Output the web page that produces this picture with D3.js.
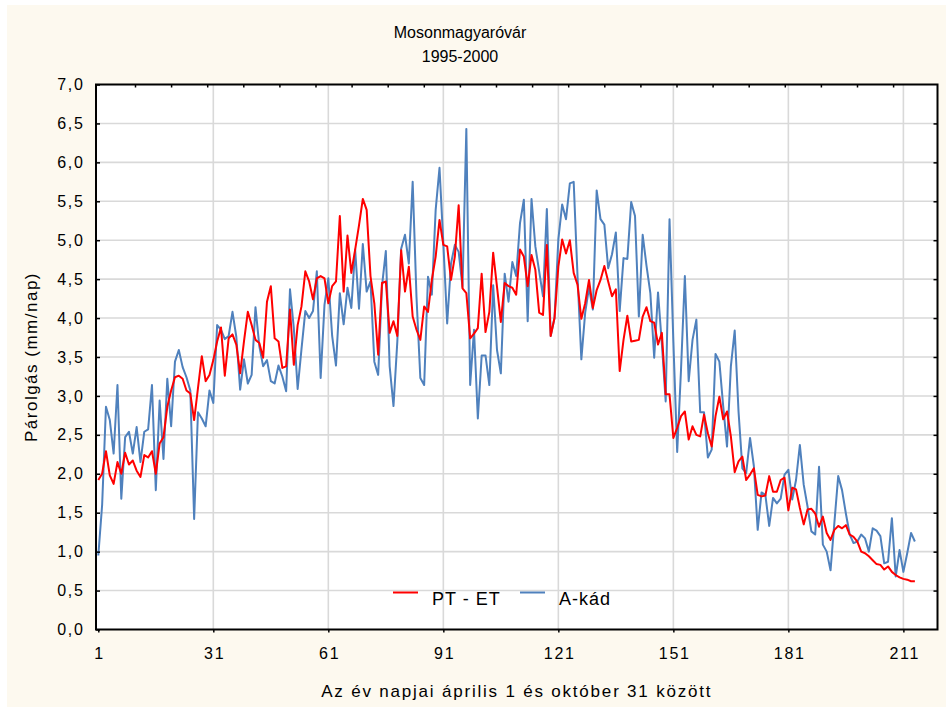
<!DOCTYPE html>
<html><head><meta charset="utf-8">
<script src="https://cdn.jsdelivr.net/npm/d3@7"></script>
<style>
body{margin:0;background:#fff}
svg{display:block}
text{font-family:Arial,"Liberation Sans",sans-serif;fill:#000}
</style>
</head><body>
<svg id="c" width="946" height="708"></svg>
<script>
// ---- data ----
const days = d3.range(1, 215); // day index 1..214 (április 1 – október 31)
const petValues = [
1.92,2.0,2.29,1.98,1.87,2.15,2.0,2.27,2.12,2.17,
2.04,1.96,2.24,2.21,2.29,2.0,2.39,2.47,2.86,3.07,
3.24,3.26,3.22,3.07,3.03,2.69,3.1,3.51,3.19,3.27,
3.46,3.70,3.88,3.26,3.74,3.79,3.66,3.29,3.70,4.08,
3.91,3.72,3.68,3.49,4.21,4.41,3.74,3.70,3.36,3.38,
4.11,3.40,3.91,4.15,4.60,4.47,4.24,4.51,4.54,4.51,
4.19,4.41,4.47,5.31,4.34,5.06,4.58,4.88,5.19,5.53,
5.39,4.54,4.19,3.53,4.45,4.47,3.81,3.96,3.77,4.87,
4.34,4.66,4.02,3.85,3.72,4.15,4.08,4.49,4.79,5.26,
4.94,4.92,4.49,4.79,5.45,4.38,4.32,3.74,3.80,3.87,
4.57,3.82,4.08,4.84,4.40,3.95,4.45,4.41,4.39,4.30,
4.88,4.79,4.41,4.81,4.62,4.07,4.04,4.94,3.77,4.00,
4.66,5.01,4.83,5.00,4.58,4.43,3.99,4.19,4.49,4.13,
4.36,4.49,4.67,4.47,4.28,4.37,3.32,3.72,4.03,3.70,
3.71,3.72,4.02,4.14,3.96,3.94,3.66,3.81,3.02,3.02,
2.46,2.59,2.74,2.80,2.44,2.61,2.50,2.48,2.76,2.52,
2.35,2.74,2.99,2.70,2.80,2.48,2.02,2.16,2.22,1.92,
1.99,2.07,1.73,1.71,1.72,1.97,1.77,1.77,1.92,1.95,
1.53,1.82,1.80,1.56,1.35,1.54,1.55,1.49,1.32,1.45,
1.24,1.15,1.28,1.33,1.30,1.34,1.22,1.19,1.13,1.00,
0.98,0.94,0.89,0.84,0.83,0.77,0.81,0.74,0.70,0.67,
0.65,0.64,0.62,0.62
];
const kadValues = [
0.95,1.6,2.86,2.69,2.26,3.14,1.68,2.47,2.54,2.26,
2.60,2.15,2.54,2.57,3.14,1.79,2.94,2.19,3.22,2.61,
3.44,3.59,3.37,3.24,3.07,1.42,2.79,2.71,2.61,3.07,
2.91,3.91,3.85,3.73,3.77,4.08,3.76,3.08,3.47,3.16,
3.27,4.14,3.64,3.38,3.46,3.19,3.16,3.39,3.25,3.06,
4.37,3.87,3.09,3.6,4.09,4.00,4.09,4.60,3.23,4.17,
4.51,3.77,3.39,4.32,3.92,4.39,4.13,4.88,4.12,4.95,
4.34,4.47,3.44,3.27,4.41,4.86,3.38,2.87,3.7,4.89,
5.07,4.70,5.75,4.27,3.23,3.14,4.53,4.30,5.39,5.93,
4.96,3.93,4.70,4.94,4.85,4.40,6.43,3.14,3.85,2.71,
3.52,3.52,3.14,4.42,3.59,3.29,4.57,4.21,4.72,4.54,
5.22,5.52,3.96,5.53,4.92,4.60,4.28,5.40,3.77,4.00,
5.01,5.46,5.27,5.73,5.75,4.54,3.47,4.07,4.39,4.11,
5.64,5.27,5.20,4.64,4.82,5.10,4.09,4.77,4.76,5.49,
5.31,4.02,5.07,4.67,4.32,3.49,4.33,3.67,2.93,5.27,
3.7,2.28,3.34,4.54,3.19,3.72,3.98,2.79,2.79,2.21,
2.31,3.54,3.44,2.87,2.35,3.38,3.84,2.8,2.07,2.01,
2.46,2.10,1.28,1.76,1.73,1.33,1.69,1.62,1.68,1.99,
2.05,1.67,1.92,2.37,1.86,1.58,1.26,1.22,2.09,1.09,
1.00,0.76,1.37,1.97,1.79,1.49,1.22,1.11,1.13,1.22,
1.17,1.00,1.30,1.27,1.20,0.85,0.87,1.43,0.68,1.02,
0.74,0.98,1.24,1.13
];
const yTickValues = [0,0.5,1,1.5,2,2.5,3,3.5,4,4.5,5,5.5,6,6.5,7];
const xTickDays = [1,31,61,91,121,151,181,211];
const seriesNames = ["PT - ET", "A-kád"];
const seriesColors = ["#ff0000", "#4f81bd"];
const titleLines = ["Mosonmagyaróvár", "1995-2000"];
const xLabel = "Az év napjai április 1 és október 31 között";
const yLabel = "Párolgás (mm/nap)";

// ---- layout ----
const L = 96, R = 937.5, T = 84.5, B = 629.5;
const svg = d3.select("#c");
const x = d3.scaleLinear().domain([0.4, 219.9]).range([L, R]);
const y = d3.scaleLinear().domain([0, 7]).range([B, T]);
const topScale = d3.scaleLinear().domain([0, 23.23]).range([98.9, R]);
const fmt = d => d3.format(".1f")(d).replace(".", ",");

svg.append("rect").attr("x", 7).attr("y", 5).attr("width", 939).attr("height", 702).attr("fill", "#fdf9ef");
svg.append("rect").attr("x", L).attr("y", T).attr("width", R - L).attr("height", B - T).attr("fill", "#fff");

// gridlines
const grid = svg.append("g").attr("stroke", "#d9d9d9").attr("stroke-width", 1.6);
grid.selectAll("line.h").data(yTickValues.filter(v => v > 0 && v < 7)).enter().append("line")
  .attr("x1", L).attr("x2", R).attr("y1", d => y(d)).attr("y2", d => y(d));
grid.selectAll("line.v").data(xTickDays.filter(d => d > 1)).enter().append("line")
  .attr("y1", T).attr("y2", B).attr("x1", d => x(d)).attr("x2", d => x(d));

// series
const series = [petValues, kadValues];
const line = d3.line().x((d, i) => x(days[i])).y(d => y(d));
[1, 0].forEach(k => {
  svg.append("path").datum(series[k]).attr("d", line)
    .attr("fill", "none").attr("stroke", seriesColors[k]).attr("stroke-width", 2)
    .attr("stroke-linejoin", "round");
});

// axes
function styleAxis(g, size) {
  g.select(".domain").remove();
  g.selectAll(".tick line").attr("stroke", "#000").attr("stroke-width", 1.5);
  g.selectAll("text").attr("font-size", size).style("letter-spacing", "1.7px")
    .attr("font-family", 'Arial,"Liberation Sans",sans-serif').attr("fill", "#000");
}
const gl = svg.append("g").attr("transform", `translate(${L},0)`)
  .call(d3.axisLeft(y).tickValues(yTickValues).tickSize(-4).tickPadding(11.5).tickFormat(fmt));
styleAxis(gl, 16);
const gb = svg.append("g").attr("transform", `translate(0,${B})`)
  .call(d3.axisBottom(x).tickValues(xTickDays).tickSize(3).tickPadding(15.5).tickFormat(d3.format("d")));
styleAxis(gb, 16);
gb.selectAll("text").attr("dx", "0.85");
const gt = svg.append("g").attr("transform", `translate(0,${T})`)
  .call(d3.axisTop(topScale).tickValues(d3.range(1, 23)).tickSize(-3).tickFormat(""));
styleAxis(gt, 16);
const gr = svg.append("g").attr("transform", `translate(${R},0)`)
  .call(d3.axisRight(y).tickValues(yTickValues.filter(v => v > 0 && v < 7)).tickSize(-4).tickFormat(""));
styleAxis(gr, 16);

// frame
svg.append("rect").attr("x", L).attr("y", T).attr("width", R - L).attr("height", B - T)
  .attr("fill", "none").attr("stroke", "#000").attr("stroke-width", 2);

// titles
svg.append("text").attr("x", 460).attr("y", 38).attr("text-anchor", "middle").attr("font-size", 16).text(titleLines[0]);
svg.append("text").attr("x", 460).attr("y", 62).attr("text-anchor", "middle").attr("font-size", 16).text(titleLines[1]);
svg.append("text").attr("x", (L + R) / 2).attr("y", 697).attr("text-anchor", "middle").attr("font-size", 17)
  .style("letter-spacing", "1.8px").text(xLabel);
svg.append("text").attr("transform", `translate(37,${(T + B) / 2}) rotate(-90)`).attr("text-anchor", "middle")
  .attr("font-size", 17).style("letter-spacing", "1.5px").text(yLabel);

// legend
const legendX = [393, 520];
const lg = svg.append("g");
seriesNames.forEach((name, k) => {
  lg.append("line").attr("x1", legendX[k]).attr("x2", legendX[k] + 25).attr("y1", 592.5).attr("y2", 592.5)
    .attr("stroke", seriesColors[k]).attr("stroke-width", 2);
  lg.append("text").attr("x", legendX[k] + 39).attr("y", 605).attr("font-size", 18)
    .style("letter-spacing", "1px").text(name);
});
</script>
</body></html>
